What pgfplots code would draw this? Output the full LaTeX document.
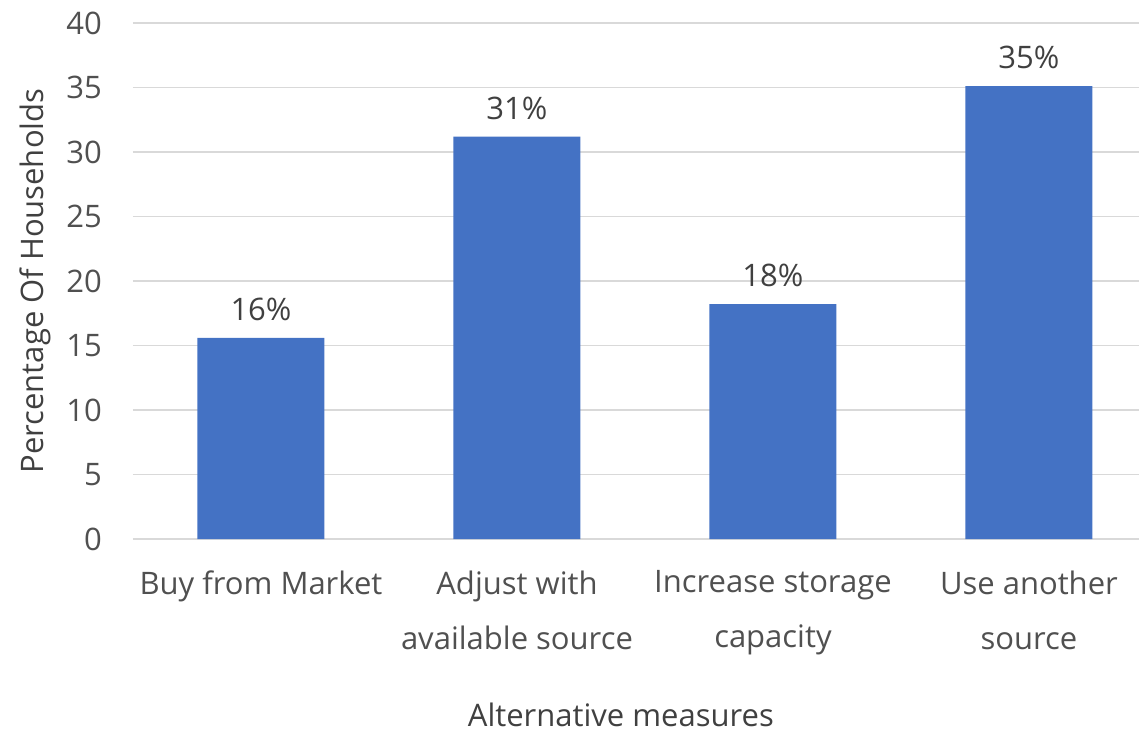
\documentclass[border=0pt]{standalone}
\usepackage{fontspec}
\setmainfont{Open Sans}
\usepackage{pgfplots}
\pgfplotsset{compat=1.18}
\definecolor{barblue}{HTML}{4472C4}
\definecolor{gridgray}{HTML}{D9D9D9}
\definecolor{ticktext}{HTML}{505050}
\definecolor{labeltext}{HTML}{404040}
\begin{document}
\begin{tikzpicture}
\begin{axis}[
  at={(0,0)}, anchor=south west,
  scale only axis,
  width=503pt, height=258pt,
  ymin=0, ymax=40,
  ytick={0,5,...,40},
  xmin=-0.5, xmax=3.43,
  xtick=data,
  xticklabels={Buy from Market, {Adjust with\\available source}, {Increase storage\\capacity}, {Use another\\source}},
  xticklabel style={align=center, font=\fontsize{15.5}{27.5}\selectfont, text=ticktext, yshift=-8pt},
  yticklabel style={font=\fontsize{15.5}{18}\selectfont, text=ticktext, xshift=-12pt},
  /pgf/number format/assume math mode=true,
  axis line style={draw=none},
  axis x line*=bottom,
  x axis line style={draw=gridgray, line width=0.8pt},
  tick style={draw=none},
  ymajorgrids,
  grid style={gridgray, line width=0.8pt},
  clip=false,
  ybar,
  bar width=63.5pt,
  xlabel={Alternative measures},
  ylabel={Percentage Of Households},
  xlabel style={font=\fontsize{15.5}{18}\selectfont, text=labeltext, at={(axis description cs:0.485,-0.34)}, anchor=center},
  ylabel style={font=\fontsize{15.5}{18}\selectfont, text=labeltext, at={(axis description cs:-0.0974,0.5)}, anchor=center},
  nodes near coords={\pgfmathprintnumber[fixed,precision=0]{\pgfplotspointmeta}\%},
  nodes near coords style={font=\fontsize{15.5}{18}\selectfont, text=labeltext, anchor=south, yshift=5pt},
]
\addplot[fill=barblue, draw=none] coordinates {(0,15.6) (1,31.2) (2,18.2) (3,35.1)};
\end{axis}
\pgfresetboundingbox
\useasboundingbox (-66.5pt,-97pt) rectangle (503pt,269.5pt);
\end{tikzpicture}
\end{document}
